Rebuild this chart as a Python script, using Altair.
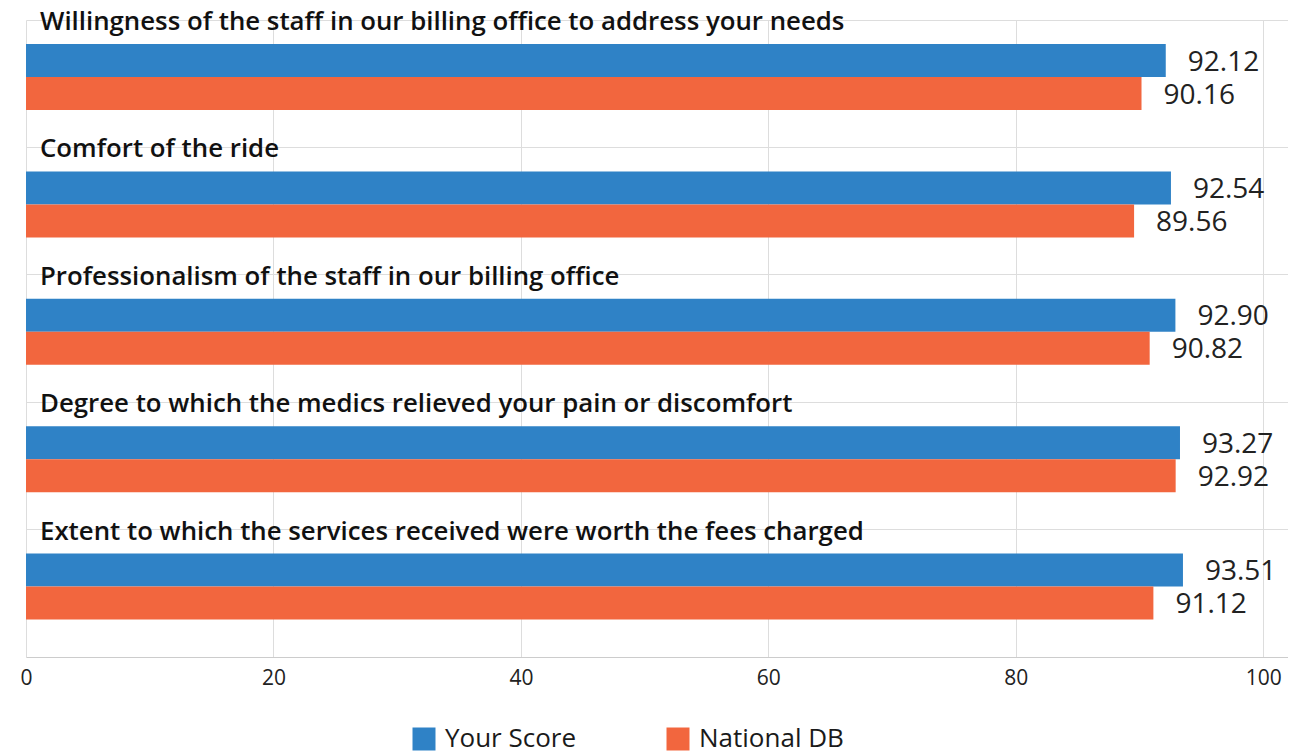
import altair as alt
import pandas as pd

categories = [
    "Willingness of the staff in our billing office to address your needs",
    "Comfort of the ride",
    "Professionalism of the staff in our billing office",
    "Degree to which the medics relieved your pain or discomfort",
    "Extent to which the services received were worth the fees charged",
]
series = ["Your Score", "National DB"]
your_score = [92.12, 92.54, 92.90, 93.27, 93.51]
national_db = [90.16, 89.56, 90.82, 92.92, 91.12]
x_ticks = [0, 20, 40, 60, 80, 100]
colors = ["#2F82C6", "#F2663E"]

rows = []
for c, a, b in zip(categories, your_score, national_db):
    rows.append({"cat": c, "series": series[0], "value": a})
    rows.append({"cat": c, "series": series[1], "value": b})
df = pd.DataFrame(rows)
cat_df = pd.DataFrame({"cat": categories})

FONT = "Open Sans"

y_enc = alt.Y(
    "cat:N",
    sort=categories,
    scale=alt.Scale(paddingInner=0, paddingOuter=0),
    axis=alt.Axis(
        title=None, labels=False, ticks=False, domain=False, grid=True,
        bandPosition=0, gridColor="#dddddd", gridWidth=1,
    ),
)
yoff = alt.YOffset(
    "series:N",
    sort=series,
    scale=alt.Scale(paddingInner=0, paddingOuter=0.93, align=0.391),
)
x_enc = alt.X(
    "value:Q",
    scale=alt.Scale(domain=[0, 102], nice=False),
    axis=alt.Axis(
        title=None, values=x_ticks, grid=True, gridColor="#dddddd",
        ticks=False, domainColor="#cccccc", labelFontSize=21,
        labelColor="#222222", labelPadding=10, labelFont=FONT,
        labelFlush=False,
    ),
)

base = alt.Chart(df)

bars = base.mark_bar(size=33).encode(
    x=x_enc,
    y=y_enc,
    yOffset=yoff,
    color=alt.Color(
        "series:N",
        sort=series,
        scale=alt.Scale(domain=series, range=colors),
        legend=alt.Legend(
            title=None, orient="none", direction="horizontal",
            legendX=385, legendY=706, symbolType="square", symbolSize=529,
            symbolStrokeWidth=0, labelFontSize=26, labelFont=FONT,
            labelFontWeight=500,
            labelColor="#1a1a1a", labelOffset=8, columnPadding=88,
        ),
    ),
)

values = base.mark_text(
    align="left", baseline="middle", dx=22, dy=2, fontSize=28,
    font=FONT, color="#222222",
).encode(
    x="value:Q",
    y=alt.Y("cat:N", sort=categories),
    yOffset=alt.YOffset("series:N", sort=series),
    text=alt.Text("value:Q", format=".2f"),
)

labels = alt.Chart(cat_df).mark_text(
    align="left", baseline="alphabetic", dx=14, dy=10, fontSize=25.8,
    fontWeight=600, font=FONT, color="#111111",
).encode(
    x=alt.datum(0),
    y=alt.Y("cat:N", sort=categories, bandPosition=0),
    text="cat:N",
)

chart = (
    alt.layer(bars, values, labels)
    .properties(
        width=1262, height=637,
        autosize=alt.AutoSizeParams(type="none"),
        padding={"left": 18, "top": 12, "right": 0, "bottom": 96},
    )
    .configure_view(stroke=None)
)

chart.save("out.html", embed_options={"renderer": "svg", "actions": False})
